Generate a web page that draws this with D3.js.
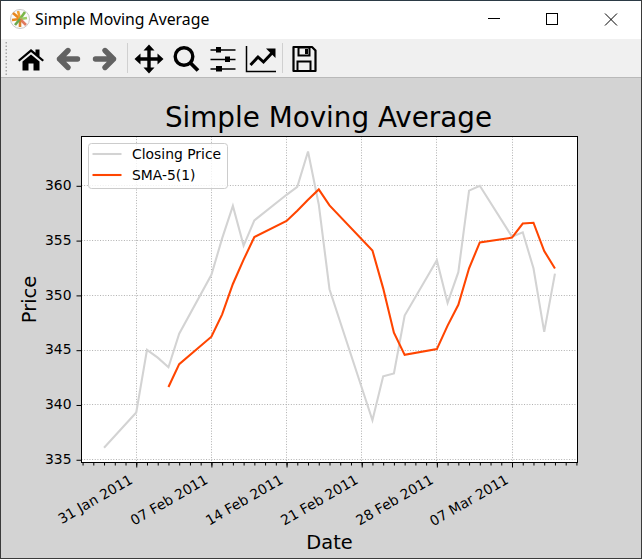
<!DOCTYPE html>
<html>
<head>
<meta charset="utf-8">
<title>Simple Moving Average</title>
<script src="https://cdn.jsdelivr.net/npm/d3@7"></script>
<style>
  html, body { margin: 0; padding: 0; background: #d3d3d3; overflow: hidden; }
  svg { display: block; }
  text { font-family: "DejaVu Sans", sans-serif; fill: #000; }
  .domain { display: none; }
  .tick line { stroke: #000; stroke-width: 1; }
</style>
</head>
<body>
<svg id="chart" width="642" height="559"></svg>
<script>
const dates = [
  "2011-01-28", "2011-01-31", "2011-02-01", "2011-02-02", "2011-02-03", "2011-02-04",
  "2011-02-07", "2011-02-08", "2011-02-09", "2011-02-10", "2011-02-11",
  "2011-02-14", "2011-02-15", "2011-02-16", "2011-02-17", "2011-02-18",
  "2011-02-22", "2011-02-23", "2011-02-24", "2011-02-25",
  "2011-02-28", "2011-03-01", "2011-03-02", "2011-03-03", "2011-03-04",
  "2011-03-07", "2011-03-08", "2011-03-09", "2011-03-10", "2011-03-11",
]
const closing = [
  336.1, 339.32, 345.03, 344.32, 343.44, 346.5,
  351.88, 355.2, 358.16, 354.54, 356.85,
  359.18, 359.9, 363.13, 358.3, 350.56,
  338.61, 342.62, 342.88, 348.16,
  353.21, 349.31, 352.12, 359.56, 360,
  355.36, 355.76, 352.47, 346.67, 351.99,
]
const sma5 = [
  null, null, null, null, 341.64, 343.73,
  346.23, 348.27, 351.04, 353.26, 355.33,
  356.79, 357.73, 358.72, 359.67, 358.21,
  354.1, 350.64, 346.59, 344.57,
  345.1, 347.24, 349.14, 352.47, 354.84,
  355.27, 356.56, 356.63, 354.05, 352.45,
]
const yTicks = [335, 340, 345, 350, 355, 360]
const xTicks = ["2011-01-31", "2011-02-07", "2011-02-14", "2011-02-21", "2011-02-28", "2011-03-07"]
const legendLabels = ["Closing Price", "SMA-5(1)"]
const lineColors = ["#d3d3d3", "#ff4500"]

const svg = d3.select("#chart")
const parseDate = d3.utcParse("%Y-%m-%d")
const dayMs = 24 * 3600 * 1000

const box = { left: 81.5, right: 577.5, top: 136.5, bottom: 462.5 }

const x = d3
  .scaleUtc()
  .domain([
    new Date(+parseDate(dates[0]) - 2.1 * dayMs),
    new Date(+parseDate(dates[dates.length - 1]) + 2.1 * dayMs),
  ])
  .range([box.left, box.right])

const y = d3.scaleLinear().domain([334.75, 364.5]).range([box.bottom, box.top])

// window chrome: title bar, toolbar
svg.append("rect").attr("width", 642).attr("height", 559).attr("fill", "#d3d3d3")
svg.append("rect").attr("width", 642).attr("height", 39).attr("fill", "#ffffff")
svg.append("rect").attr("y", 39).attr("width", 642).attr("height", 38).attr("fill", "#f0f0f0")
svg.append("rect").attr("y", 77).attr("width", 642).attr("height", 1).attr("fill", "#b9b9b9")
svg.append("rect").attr("width", 642).attr("height", 1).attr("fill", "#2b3a45")
svg.append("rect").attr("width", 1).attr("height", 559).attr("fill", "#3a3a3a")
svg.append("rect").attr("x", 641).attr("width", 1).attr("height", 559).attr("fill", "#3a3a3a")
svg.append("rect").attr("y", 558).attr("width", 642).attr("height", 1).attr("fill", "#3a3a3a")

// app icon
const icon = svg.append("g").attr("transform", "translate(20,19)")
icon.append("circle").attr("r", 9.5).attr("fill", "#fbfbfb").attr("stroke", "#c8c8c8")
const spokes = [
  [-7, -6, "#e8871e"], [-8, 1, "#e8871e"], [-2, -8, "#f0a030"], [5, -7, "#7ab648"],
  [7, -1, "#9ccc65"], [6, 6, "#e07a5f"], [0, 8, "#d9822b"], [-5, 6, "#6aa84f"],
]
icon
  .selectAll("line")
  .data(spokes)
  .enter()
  .append("line")
  .attr("x1", 0)
  .attr("y1", 0)
  .attr("x2", (d) => d[0])
  .attr("y2", (d) => d[1])
  .attr("stroke", (d) => d[2])
  .attr("stroke-width", 2.6)

svg
  .append("text")
  .attr("x", 35)
  .attr("y", 25)
  .style("font-family", '"Noto Sans", sans-serif')
  .style("font-size", "15.8px")
  .text("Simple Moving Average")

// window buttons
svg.append("line").attr("x1", 488).attr("x2", 500).attr("y1", 18.5).attr("y2", 18.5).attr("stroke", "#000")
svg
  .append("rect")
  .attr("x", 546.5)
  .attr("y", 13.5)
  .attr("width", 11)
  .attr("height", 11)
  .attr("fill", "none")
  .attr("stroke", "#000")
svg
  .append("path")
  .attr("d", "M605 13.5L617 25.5M617 13.5L605 25.5")
  .attr("stroke", "#000")
  .attr("fill", "none")

// toolbar grip and separators
const grip = d3.range(42, 74, 3.5)
svg
  .selectAll("rect.grip")
  .data(grip)
  .enter()
  .append("rect")
  .attr("class", "grip")
  .attr("x", 5.5)
  .attr("y", (d) => d)
  .attr("width", 1.5)
  .attr("height", 1.5)
  .attr("fill", "#a8a8a8")
svg.append("line").attr("x1", 127.5).attr("x2", 127.5).attr("y1", 43).attr("y2", 73).attr("stroke", "#d0d0d0")
svg.append("line").attr("x1", 282.5).attr("x2", 282.5).attr("y1", 43).attr("y2", 73).attr("stroke", "#d0d0d0")

// toolbar icons
const tool = (cx) => svg.append("g").attr("transform", `translate(${cx},59)`)
tool(31)
  .append("path")
  .attr("d", "M-13 1L0 -10L4.5 -6.2V-9.5H8.5V-2.8L13 1L11.5 2.5L0 -7L-11.5 2.5ZM-8.5 2.5L0 -4.5L8.5 2.5V11.5H2.5V4.5H-2.5V11.5H-8.5Z")
  .attr("fill", "#000")
tool(68.5)
  .append("path")
  .attr("d", "M-9 0L-0.5 -8.5M-9 0L-0.5 8.5M-9 0H9")
  .attr("fill", "none")
  .attr("stroke", "#626262")
  .attr("stroke-width", 5.4)
  .attr("stroke-linecap", "round")
  .attr("stroke-linejoin", "round")
tool(104.5)
  .append("path")
  .attr("d", "M9 0L0.5 -8.5M9 0L0.5 8.5M9 0H-9")
  .attr("fill", "none")
  .attr("stroke", "#626262")
  .attr("stroke-width", 5.4)
  .attr("stroke-linecap", "round")
  .attr("stroke-linejoin", "round")
const move = tool(149)
move
  .append("path")
  .attr("d", "M-11 0H11M0 -11V11")
  .attr("stroke", "#000")
  .attr("stroke-width", 3.4)
move
  .append("path")
  .attr("d", "M-14.5 0L-8.5 -5.5V5.5ZM14.5 0L8.5 -5.5V5.5ZM0 -14.5L-5.5 -8.5H5.5ZM0 14.5L-5.5 8.5H5.5Z")
  .attr("fill", "#000")
const zoomIcon = tool(186)
zoomIcon
  .append("circle")
  .attr("cx", -2)
  .attr("cy", -2.5)
  .attr("r", 8.8)
  .attr("fill", "none")
  .attr("stroke", "#000")
  .attr("stroke-width", 3.4)
zoomIcon
  .append("line")
  .attr("x1", 4.5)
  .attr("y1", 4)
  .attr("x2", 12)
  .attr("y2", 11.5)
  .attr("stroke", "#000")
  .attr("stroke-width", 3.8)
const sliders = tool(223)
sliders
  .append("path")
  .attr("d", "M-12.5 -9H12.5M-12.5 0.5H12.5M-12.5 10H12.5")
  .attr("stroke", "#000")
  .attr("stroke-width", 1.6)
sliders.append("rect").attr("x", -7).attr("y", -12).attr("width", 5).attr("height", 5.5).attr("fill", "#000")
sliders.append("rect").attr("x", 2).attr("y", -2.5).attr("width", 5).attr("height", 5.5).attr("fill", "#000")
sliders.append("rect").attr("x", -7).attr("y", 7).attr("width", 6).attr("height", 5.5).attr("fill", "#000")
const trend = tool(261)
trend
  .append("path")
  .attr("d", "M-14.5 -13V12.5H15")
  .attr("fill", "none")
  .attr("stroke", "#000")
  .attr("stroke-width", 1.5)
trend
  .append("path")
  .attr("d", "M-10.5 6L-3 -2L2.5 3L11 -6")
  .attr("fill", "none")
  .attr("stroke", "#000")
  .attr("stroke-width", 3)
trend.append("path").attr("d", "M5 -10.5H14.5V-1Z").attr("fill", "#000")
const save = tool(304)
save
  .append("path")
  .attr("d", "M-10.5 -12H8L11.5 -8.5V12H-10.5Z")
  .attr("fill", "none")
  .attr("stroke", "#000")
  .attr("stroke-width", 2.2)
  .attr("stroke-linejoin", "round")
save.append("path").attr("d", "M-5.5 -11.5H5.5V-3.5H-5.5Z").attr("fill", "none").attr("stroke", "#000").attr("stroke-width", 2)
save.append("rect").attr("x", 1).attr("y", -10).attr("width", 3).attr("height", 5).attr("fill", "#000")
save.append("path").attr("d", "M-6.5 11.5V2.5H6.5V11.5").attr("fill", "none").attr("stroke", "#000").attr("stroke-width", 2)

// plot area
svg
  .append("rect")
  .attr("x", box.left)
  .attr("y", box.top)
  .attr("width", box.right - box.left)
  .attr("height", box.bottom - box.top)
  .attr("fill", "#fff")

const majorDates = xTicks.map(parseDate)

// grid
const grid = svg.append("g").attr("fill", "none").attr("stroke", "#b0b0b0").attr("stroke-dasharray", "1,1.65")
grid
  .selectAll("line.gx")
  .data(majorDates)
  .enter()
  .append("line")
  .attr("class", "gx")
  .attr("x1", (d) => Math.floor(x(d)) + 0.5)
  .attr("x2", (d) => Math.floor(x(d)) + 0.5)
  .attr("y1", box.top)
  .attr("y2", box.bottom)
grid
  .selectAll("line.gy")
  .data(yTicks)
  .enter()
  .append("line")
  .attr("class", "gy")
  .attr("x1", box.left)
  .attr("x2", box.right)
  .attr("y1", (d) => Math.floor(y(d)) + 0.5)
  .attr("y2", (d) => Math.floor(y(d)) + 0.5)

// lines
const rows = dates.map((d, i) => ({ date: parseDate(d), close: closing[i], sma: sma5[i] }))
const closeLine = d3
  .line()
  .x((d) => x(d.date))
  .y((d) => y(d.close))
const smaLine = d3
  .line()
  .defined((d) => d.sma !== null)
  .x((d) => x(d.date))
  .y((d) => y(d.sma))

svg
  .append("path")
  .attr("d", closeLine(rows))
  .attr("fill", "none")
  .attr("stroke", lineColors[0])
  .attr("stroke-width", 2.08)
svg
  .append("path")
  .attr("d", smaLine(rows))
  .attr("fill", "none")
  .attr("stroke", lineColors[1])
  .attr("stroke-width", 2.08)

// axes
const minorDays = d3.utcDay.range(x.domain()[0], x.domain()[1])

svg
  .append("g")
  .attr("transform", `translate(0,${box.bottom})`)
  .call(d3.axisBottom(x).tickValues(minorDays).tickSize(3).tickFormat(""))

const xAxis = svg
  .append("g")
  .attr("transform", `translate(0,${box.bottom})`)
  .call(
    d3
      .axisBottom(x)
      .tickValues(majorDates)
      .tickSize(5)
      .tickFormat(d3.utcFormat("%d %b %Y"))
  )
xAxis
  .selectAll("text")
  .style("font-size", "13.9px")
  .attr("text-anchor", "end")
  .attr("dy", null)
  .attr("y", 0)
  .attr("transform", "translate(-3,20) rotate(-30)")

const yAxis = svg
  .append("g")
  .attr("transform", `translate(${box.left},0)`)
  .call(d3.axisLeft(y).tickValues(yTicks).tickSize(5).tickPadding(5))
yAxis.selectAll("text").style("font-size", "13.9px").attr("transform", "translate(0,-0.7)")

svg
  .append("rect")
  .attr("x", box.left)
  .attr("y", box.top)
  .attr("width", box.right - box.left)
  .attr("height", box.bottom - box.top)
  .attr("fill", "none")
  .attr("stroke", "#000")
  .attr("stroke-width", 1)

// titles
svg
  .append("text")
  .attr("x", (box.left + box.right) / 2 - 1)
  .attr("y", 127)
  .attr("text-anchor", "middle")
  .style("font-size", "27.8px")
  .text("Simple Moving Average")
svg
  .append("text")
  .attr("x", (box.left + box.right) / 2)
  .attr("y", 549)
  .attr("text-anchor", "middle")
  .style("font-size", "19.4px")
  .text("Date")
svg
  .append("text")
  .attr("transform", `translate(36,${(box.top + box.bottom) / 2}) rotate(-90)`)
  .attr("text-anchor", "middle")
  .style("font-size", "19.4px")
  .text("Price")

// legend
const legend = svg.append("g").attr("transform", "translate(88.5,143.5)")
legend
  .append("rect")
  .attr("width", 139)
  .attr("height", 45)
  .attr("rx", 3)
  .attr("fill", "#fff")
  .attr("fill-opacity", 0.8)
  .attr("stroke", "#cccccc")
const legendRow = legend
  .selectAll("g.row")
  .data(legendLabels)
  .enter()
  .append("g")
  .attr("class", "row")
  .attr("transform", (d, i) => `translate(0,${10.5 + i * 21})`)
legendRow
  .append("line")
  .attr("x1", 4)
  .attr("x2", 33)
  .attr("stroke", (d, i) => lineColors[i])
  .attr("stroke-width", 2.08)
legendRow
  .append("text")
  .attr("x", 43.5)
  .attr("y", 4.5)
  .style("font-size", "13.9px")
  .text((d) => d)
</script>
</body>
</html>
